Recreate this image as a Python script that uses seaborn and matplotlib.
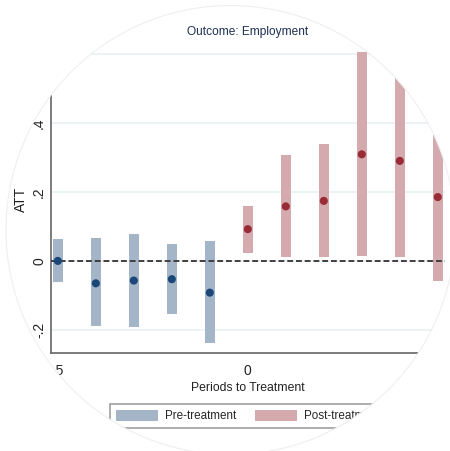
import numpy as np
import pandas as pd
import matplotlib
matplotlib.use("Agg")
import matplotlib.pyplot as plt
import seaborn as sns
from matplotlib.path import Path
from matplotlib.patches import PathPatch, Circle, Patch
from matplotlib.transforms import Affine2D

# event-study estimates
periods = [-5, -4, -3, -2, -1, 0, 1, 2, 3, 4, 5]
att = [0.0, -0.065, -0.057, -0.053, -0.092, 0.092, 0.158, 0.174, 0.309, 0.290, 0.185]
ci_low = [-0.060, -0.190, -0.192, -0.155, -0.239, 0.022, 0.011, 0.011, 0.015, 0.011, -0.058]
ci_high = [0.063, 0.065, 0.079, 0.048, 0.058, 0.159, 0.307, 0.339, 0.607, 0.560, 0.430]
xticks = [-5, 0, 5]
yticks = [-0.2, 0, 0.2, 0.4, 0.6]
ytick_labels = ["-.2", "0", ".2", ".4", ".6"]
phases = ["Pre-treatment", "Post-treatment"]

bar_colors = {"Pre-treatment": "#a4b5c7", "Post-treatment": "#d4aaaf"}
dot_colors = {"Pre-treatment": "#1a4778", "Post-treatment": "#982b35"}

df = pd.DataFrame({"period": periods, "att": att, "lo": ci_low, "hi": ci_high})
df["phase"] = np.where(df["period"] < 0, phases[0], phases[1])

sns.set_style("white")
plt.rcParams["font.family"] = ["Liberation Sans", "DejaVu Sans"]
FS = 8.4
plt.rcParams["font.size"] = FS

W, H = 450, 451
fig = plt.figure(figsize=(W / 100, H / 100), dpi=100)
ax = fig.add_axes([51 / W, 1 - 353 / H, (445 - 51) / W, (353 - 46) / H])

for ph in phases:
    sub = df[df["phase"] == ph]
    ax.bar(sub["period"], sub["hi"] - sub["lo"], bottom=sub["lo"], width=0.26,
           color=bar_colors[ph], linewidth=0, zorder=2)

ax.axhline(0, color="#404040", lw=1.4, ls=(0, (3.0, 1.5)), zorder=3)

sns.scatterplot(data=df, x="period", y="att", hue="phase", palette=dot_colors,
                s=34, edgecolor="none", legend=False, zorder=4, ax=ax)

ax.set_xlim(-5.18, 5.19)
ax.set_ylim(-0.267, 0.623)
ax.set_xticks(xticks)
ax.set_xticklabels([str(t) for t in xticks])
ax.set_yticks(yticks)
ax.set_yticklabels(ytick_labels, rotation=90, va="center")
ax.yaxis.grid(True, color="#ebf2f3", lw=1.3)
ax.set_axisbelow(True)

for s in ["top", "right"]:
    ax.spines[s].set_visible(False)
for s in ["left", "bottom"]:
    ax.spines[s].set_color("#666666")
    ax.spines[s].set_linewidth(1.2)
ax.tick_params(axis="both", direction="out", length=4, width=1, color="#666666",
               labelsize=10, labelcolor="#222222")
ax.tick_params(axis="x", pad=4)
ax.tick_params(axis="y", pad=-0.5)

ax.set_xlabel("Periods to Treatment", fontsize=FS + 0.4, color="#222222", labelpad=3)
ax.set_ylabel("ATT", fontsize=10, color="#222222")
ax.yaxis.set_label_coords(-0.058, 0.5)

fig.text(248 / W, 1 - 32 / H, "Outcome: Employment", ha="center", va="center",
         fontsize=FS + 0.2, color="#1d2f55")

handles = [Patch(facecolor=bar_colors[p], edgecolor="none") for p in phases]
leg = fig.legend(handles, phases, loc="upper center", bbox_to_anchor=(248 / W, 1 - 404 / H),
                 ncol=2, frameon=True, fancybox=False, edgecolor="#888888",
                 handlelength=3.6, handleheight=1.1, handletextpad=0.6,
                 columnspacing=1.6, borderpad=0.5, borderaxespad=0, fontsize=FS)
leg.get_frame().set_linewidth(1.2)

# circular crop of the whole picture
px = Affine2D().scale(1 / W, 1 / H) + fig.transFigure
cx, cy, r = 230.5, H - 230, 224.5
theta = np.linspace(0, 2 * np.pi, 361)
rect = [(-10, -10), (-10, H + 10), (W + 10, H + 10), (W + 10, -10), (-10, -10)]
circ = list(zip(cx + r * np.cos(theta), cy + r * np.sin(theta)))
verts = rect + circ
codes = ([Path.MOVETO] + [Path.LINETO] * 3 + [Path.CLOSEPOLY]
         + [Path.MOVETO] + [Path.LINETO] * (len(circ) - 2) + [Path.CLOSEPOLY])
mask = PathPatch(Path(verts, codes), facecolor="white", edgecolor="none",
                 transform=px, zorder=100)
fig.add_artist(mask)
fig.add_artist(Circle((cx, cy), r, fill=False, edgecolor="#efefef", lw=0.8,
                      transform=px, zorder=101))

fig.savefig("out.png", dpi=100)
